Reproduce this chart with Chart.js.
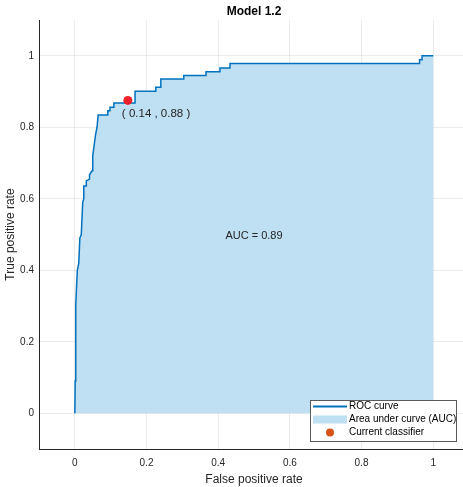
<!DOCTYPE html>
<html><head><meta charset="utf-8">
<script src="https://cdn.jsdelivr.net/npm/chart.js@4/dist/chart.umd.min.js"></script>
<style>
html,body{margin:0;padding:0;overflow:hidden;background:#fff;width:463px;height:487px}
#wrap{position:relative;width:475px;height:487px}
</style>
</head><body><div id="wrap"><canvas id="c" width="475" height="487"></canvas></div>
<script>
const chartTitle = 'Model 1.2';
const xAxisTitle = 'False positive rate';
const yAxisTitle = 'True positive rate';
const fpr = [0, 0.001, 0.002, 0.003, 0.005, 0.007, 0.011, 0.014, 0.018, 0.022, 0.025, 0.025, 0.032, 0.032, 0.041, 0.041, 0.048, 0.050, 0.055, 0.058, 0.062, 0.065, 0.092, 0.092, 0.098, 0.098, 0.109, 0.109, 0.168, 0.168, 0.226, 0.226, 0.240, 0.240, 0.304, 0.304, 0.366, 0.366, 0.405, 0.405, 0.433, 0.433, 0.962, 0.962, 0.969, 0.969, 1.0];
const tpr = [0, 0.09, 0.22, 0.30, 0.36, 0.40, 0.42, 0.49, 0.50, 0.59, 0.60, 0.636, 0.636, 0.650, 0.655, 0.667, 0.678, 0.72, 0.758, 0.78, 0.80, 0.834, 0.834, 0.846, 0.846, 0.856, 0.856, 0.868, 0.868, 0.901, 0.901, 0.912, 0.912, 0.935, 0.935, 0.945, 0.945, 0.955, 0.955, 0.966, 0.966, 0.978, 0.978, 0.989, 0.989, 1.0, 1.0];
const currentFpr = [0.148];
const currentTpr = [0.875];
const currentLabel = '( 0.14 , 0.88 )';
const aucText = 'AUC = 0.89';
const tickValues = [0, 0.2, 0.4, 0.6, 0.8, 1];
const tickLabels = ['0', '0.2', '0.4', '0.6', '0.8', '1'];
const legendLabels = ['ROC curve', 'Area under curve (AUC)', 'Current classifier'];

const FONT = '"Liberation Sans", Arial, Helvetica, sans-serif';
const TXT = '#262626';
const LINE = '#0072BD';
const FILL = 'rgb(191,223,243)';
const DOT = '#F0202A';
const LEGDOT = '#D95319';

const rocData = fpr.map((x, i) => ({x: x, y: tpr[i]}));
const curData = currentFpr.map((x, i) => ({x: x, y: currentTpr[i]}));

const overlay = {
  id: 'overlay',
  afterDraw(chart) {
    const ctx = chart.ctx;
    const xs = chart.scales.x, ys = chart.scales.y;
    ctx.save();
    ctx.fillStyle = '#000';
    ctx.font = 'bold 12px ' + FONT;
    ctx.textAlign = 'center';
    ctx.textBaseline = 'middle';
    ctx.fillText(chartTitle, 254, 12);
    ctx.fillStyle = TXT;
    ctx.font = '11.5px ' + FONT;
    ctx.textAlign = 'left';
    ctx.fillText(currentLabel, xs.getPixelForValue(currentFpr[0]) - 6, ys.getPixelForValue(currentTpr[0]) + 13);
    ctx.font = '11px ' + FONT;
    ctx.textAlign = 'center';
    ctx.fillText(aucText, xs.getPixelForValue(0.5), ys.getPixelForValue(0.495));
    const lx = 310, ly = 400, lw = 146, lh = 41;
    ctx.fillStyle = '#fff';
    ctx.fillRect(lx, ly, lw, lh);
    ctx.strokeStyle = '#5a5a5a';
    ctx.lineWidth = 1;
    ctx.strokeRect(lx + 0.5, ly + 0.5, lw, lh);
    const rows = [ly + 6.5, ly + 19.5, ly + 32.5];
    ctx.strokeStyle = LINE; ctx.lineWidth = 2;
    ctx.beginPath(); ctx.moveTo(313, rows[0]); ctx.lineTo(347, rows[0]); ctx.stroke();
    ctx.fillStyle = FILL; ctx.fillRect(313, rows[1] - 4, 34, 8);
    ctx.fillStyle = LEGDOT; ctx.beginPath(); ctx.arc(330, rows[2], 4, 0, Math.PI * 2); ctx.fill();
    ctx.fillStyle = '#000';
    ctx.font = '10px ' + FONT;
    ctx.textAlign = 'left';
    legendLabels.forEach((t, i) => ctx.fillText(t, 349, rows[i]));
    ctx.restore();
  }
};

function fixTicks(s) { s.ticks = tickValues.map(v => ({value: v})); }
function tickCb(v) { const i = tickValues.indexOf(v); return i >= 0 ? tickLabels[i] : ''; }

new Chart(document.getElementById('c'), {
  type: 'scatter',
  data: {
    datasets: [
      {label: legendLabels[2], data: curData, order: 0, pointRadius: 4.5, pointBackgroundColor: DOT, pointBorderColor: DOT, pointBorderWidth: 0, showLine: false},
      {label: legendLabels[0], data: rocData, order: 1, showLine: true, borderColor: LINE, borderWidth: 1.5, pointRadius: 0, fill: 'origin', backgroundColor: FILL, tension: 0}
    ]
  },
  options: {
    responsive: false,
    animation: false,
    events: [],
    layout: {padding: {top: 20, right: 6, left: 0, bottom: 0}},
    plugins: {legend: {display: false}, title: {display: false}, tooltip: {enabled: false}, filler: {propagate: false}},
    scales: {
      x: {
        type: 'linear', min: -0.1, max: 1.1,
        afterBuildTicks: fixTicks,
        afterFit(s) { s.height = 38; },
        grid: {color: 'rgba(38,38,38,0.09)', drawTicks: false, lineWidth: 1},
        border: {color: TXT, width: 1},
        ticks: {callback: tickCb, color: TXT, font: {family: FONT, size: 10}, padding: 8, maxRotation: 0},
        title: {display: true, text: xAxisTitle, color: TXT, font: {family: FONT, size: 12}, padding: {top: 1, bottom: 0}}
      },
      y: {
        type: 'linear', min: -0.1, max: 1.1,
        afterBuildTicks: fixTicks,
        afterFit(s) { s.width = 39; },
        grid: {color: 'rgba(38,38,38,0.09)', drawTicks: false, lineWidth: 1},
        border: {color: TXT, width: 1},
        ticks: {callback: tickCb, color: TXT, font: {family: FONT, size: 10}, padding: 5},
        title: {display: true, text: yAxisTitle, color: TXT, font: {family: FONT, size: 12}, padding: {top: 3, bottom: 2}}
      }
    }
  },
  plugins: [overlay]
});
</script>
</body></html>
